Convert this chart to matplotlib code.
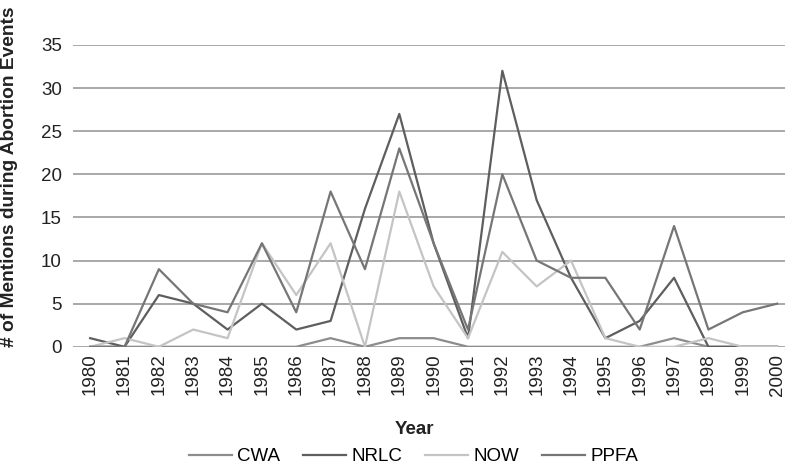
import matplotlib.pyplot as plt

# Data
years = list(range(1980, 2001))
cwa = [0, 0, 0, 0, 0, 0, 0, 1, 0, 1, 1, 0, 0, 0, 0, 0, 0, 1, 0, 0, 0]
nrlc = [1, 0, 6, 5, 2, 5, 2, 3, 16, 27, 12, 1, 32, 17, 8, 1, 3, 8, 0, 0, 0]
now = [0, 1, 0, 2, 1, 12, 6, 12, 0, 18, 7, 1, 11, 7, 10, 1, 0, 0, 1, 0, 0]
ppfa = [0, 0, 9, 5, 4, 12, 4, 18, 9, 23, 12, 2, 20, 10, 8, 8, 2, 14, 2, 4, 5]

series = [
    ('CWA', cwa, '#8c8c8c'),
    ('NRLC', nrlc, '#5e5e5e'),
    ('NOW', now, '#c4c4c4'),
    ('PPFA', ppfa, '#767676'),
]

plt.rcParams['font.family'] = ['Liberation Sans', 'DejaVu Sans']

fig = plt.figure(figsize=(7.85, 4.68), dpi=100)
ax = fig.add_axes([0.093, 0.259, 0.907, 0.645])

for name, vals, color in series:
    ax.plot(years, vals, color=color, linewidth=1.6, label=name)

ax.set_ylim(0, 35)
ax.set_xlim(1979.5, 2000.23)
ax.set_yticks(range(0, 36, 5))
ax.set_xticks(years)
ax.set_xticklabels([str(y) for y in years], rotation=90)
ax.tick_params(axis='y', labelsize=13.5, length=0, pad=8, colors='#222222')
ax.tick_params(axis='x', labelsize=13.5, length=0, pad=5, colors='#222222')

ax.grid(axis='y', color='#999999', linewidth=1.2)
ax.set_axisbelow(True)
for side in ['top', 'right', 'left', 'bottom']:
    ax.spines[side].set_visible(False)

ax.set_ylabel('# of Mentions during Abortion Events', fontsize=13.8,
              fontweight='bold', color='#222222')
ax.yaxis.set_label_coords(-0.077, 0.563)
ax.set_xlabel('Year', fontsize=13.5, fontweight='bold', color='#222222')
ax.xaxis.set_label_coords(0.48, -0.245)

fig.legend(loc='center', bbox_to_anchor=(0.527, 0.024), ncol=4, frameon=False,
           fontsize=13.5, handlelength=2.3, columnspacing=1.2, handletextpad=0.3)

fig.savefig('out.png', dpi=100)
